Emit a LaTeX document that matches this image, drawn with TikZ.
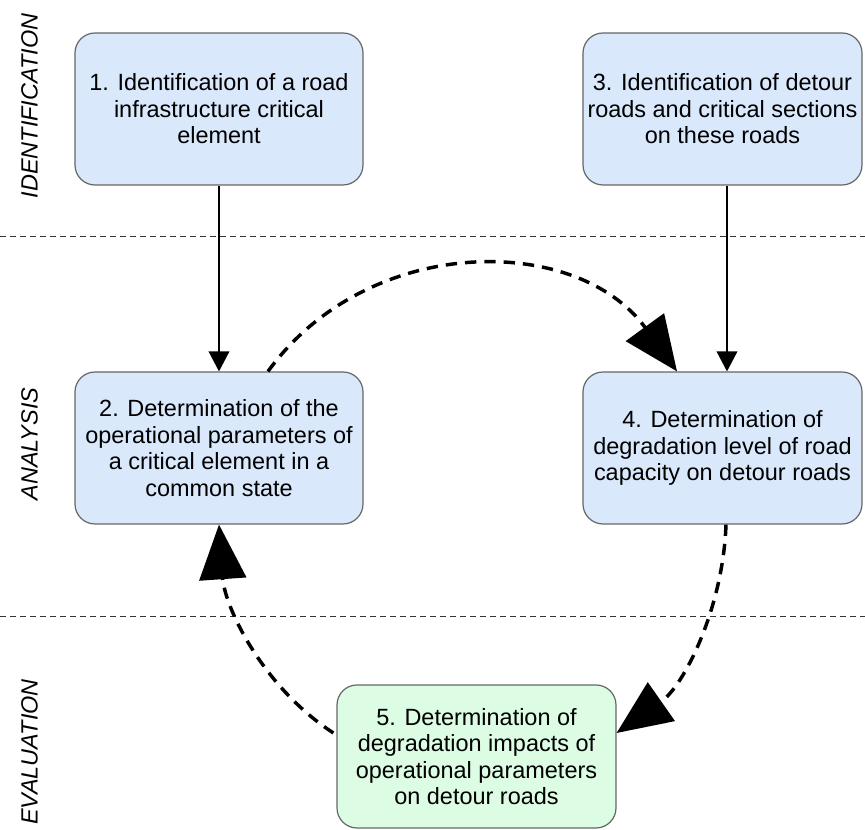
\documentclass[tikz,border=0pt]{standalone}
\usepackage{fontspec}
\setmainfont{Liberation Sans}
\usetikzlibrary{arrows.meta,calc}
\definecolor{boxblue}{RGB}{218,232,252}
\definecolor{boxgreen}{RGB}{220,252,228}
\definecolor{boxline}{RGB}{102,102,102}
\begin{document}
\begin{tikzpicture}[x=0.75pt,y=0.75pt,
  stepbox/.style={draw=boxline, line width=0.9pt, rounded corners=15pt, fill=boxblue,
    align=center, inner sep=0pt, font=\fontsize{17.6}{19.9}\selectfont, minimum height=114pt},
  widebox/.style={stepbox, minimum width=216pt},
  narrowbox/.style={stepbox, minimum width=209.25pt},
  flow/.style={line width=1.1pt, -{Triangle[length=15pt,width=15.5pt]}},
  cyclearrow/.style={line width=2.6pt, dash pattern=on 8.5pt off 6pt, -{Triangle[length=41pt,width=35pt]}},
  sep/.style={line width=0.75pt, draw=black!80, dash pattern=on 4.5pt off 3pt},
  phase/.style={rotate=90, inner sep=0pt, font=\fontsize{17.6}{20}\selectfont\itshape}]
\useasboundingbox (0,0) rectangle (865,830);

% separators
\coordinate (s1l) at (0,593);
\coordinate (s1r) at (865,593);
\coordinate (s2l) at (0,213);
\coordinate (s2r) at (865,213);
\draw[sep] (s1l) -- (s1r);
\draw[sep] (s2l) -- (s2r);

% phase labels
\node[phase] (p1) at (29.5,724) {IDENTIFICATION};
\node[phase] (p2) at (29.5,386) {ANALYSIS};
\node[phase] (p3) at (29.5,78) {EVALUATION};

% boxes
\node[widebox] (n1) at (219,721) {1. Identification of a road\\infrastructure critical\\element};
\node[narrowbox] (n3) at (722.5,721) {3. Identification of detour\\roads and critical sections\\on these roads};
\node[widebox] (n2) at (219,382) {2. Determination of the\\operational parameters of\\a critical element in a\\common state};
\node[narrowbox] (n4) at (722.5,382) {4. Determination of\\degradation level of road\\capacity on detour roads};
\node[narrowbox, fill=boxgreen, minimum height=107.25pt] (n5) at (476.5,73.5) {5. Determination of\\degradation impacts of\\operational parameters\\on detour roads};

% solid connectors
\draw[flow] (n1.south) -- (n2.north);
\draw[flow] ($(n3.south)+(4.5,0)$) -- ($(n4.north)+(4.5,0)$);

% dashed cycle
\draw[cyclearrow] ($(n2.north)+(49,0)$) to[out=54,in=126,looseness=1.07] ($(n4.north)+(-45.5,0)$);
\draw[cyclearrow] ($(n4.south)+(3.5,0)$) to[out=-92,in=35,looseness=0.9] ($(n5.east)+(0,23.5)$);
\draw[cyclearrow] ($(n5.west)+(-3,23.5)$) to[out=147,in=-86,looseness=0.9] (n2.south);
\end{tikzpicture}
\end{document}
